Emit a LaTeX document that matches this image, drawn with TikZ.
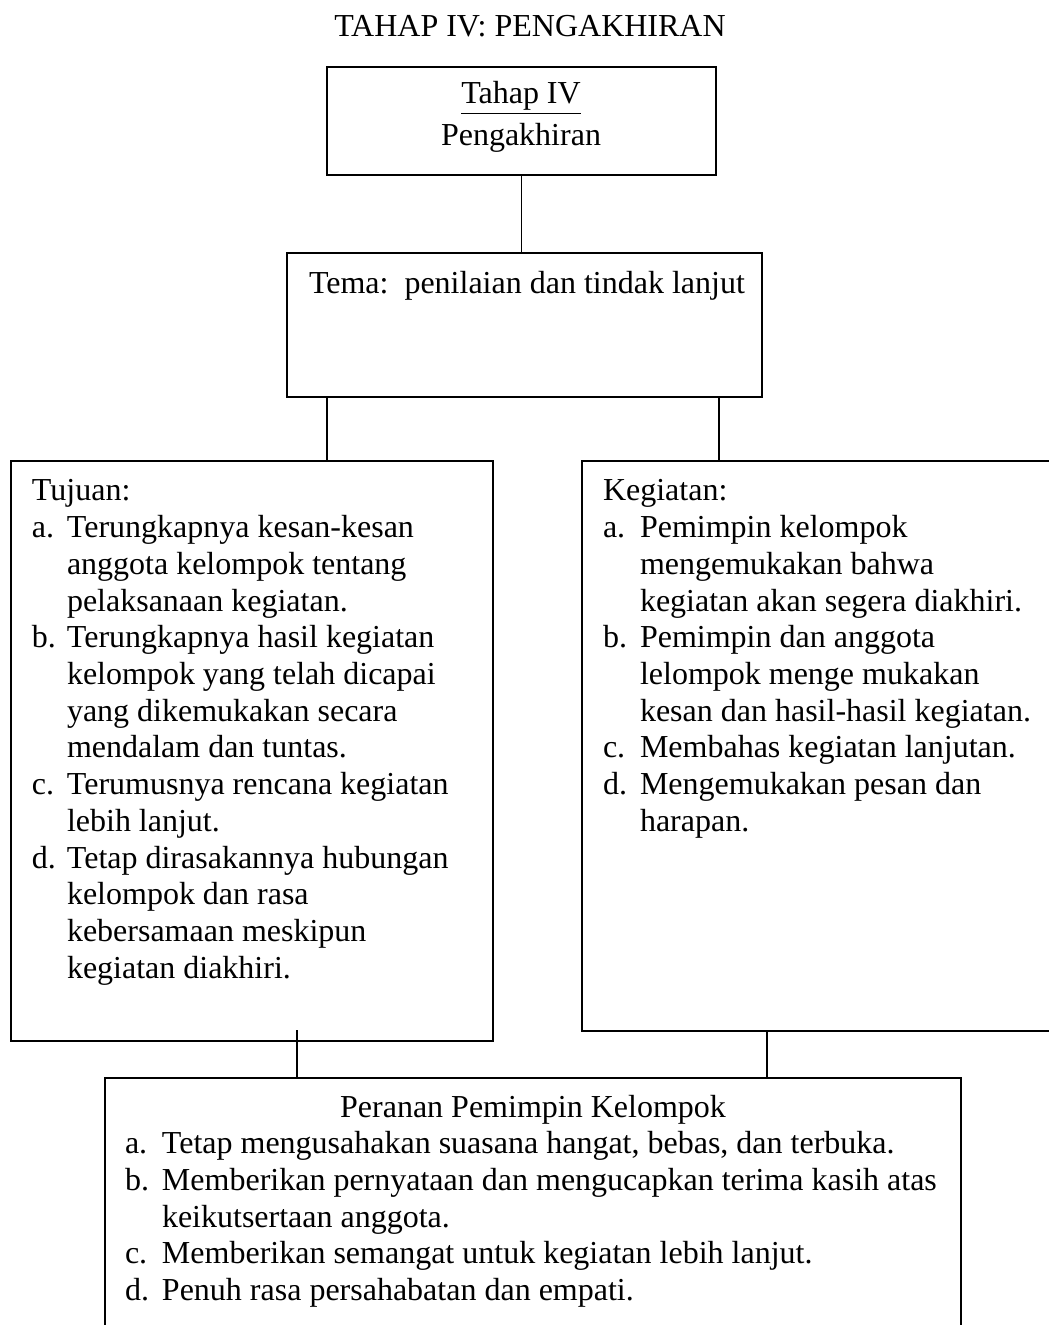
\documentclass[tikz,border=0pt]{standalone}
\usepackage{fontspec}
\setmainfont{Liberation Serif}
\usepackage{array}
\usetikzlibrary{fit,calc}
\newcommand\mylist[2]{\begin{tabular}[t]{@{}p{#1}@{}l@{}}#2\end{tabular}}
\tikzset{
  box/.style={draw, line width=1pt, inner sep=0pt, outer sep=0pt, rectangle},
  link/.style={draw, line width=0.65pt},
  txt/.style={inner sep=0pt, outer sep=0pt, font=\fontsize{16pt}{18.35pt}\selectfont},
}
\begin{document}
\begin{tikzpicture}[x=0.5pt, y=-0.5pt]
\useasboundingbox (0,0) rectangle (1048,1325);
% boxes
\node[box, fit={(327,67) (716,175)}] (top) {};
\node[box, fit={(287,253) (762,397)}] (tema) {};
\node[box, fit={(11,461) (493,1041)}] (left) {};
\node[box, fit={(582,461) (1056,1031)}] (right) {};
\node[box, fit={(105,1078) (961,1340)}] (bot) {};
% connectors
\draw[link] (top.south) -- (top.south |- tema.north);
\coordinate (ta) at ($(tema.south west)+(40,0)$);
\draw[link] (ta) -- (ta |- left.north);
\coordinate (tb) at ($(tema.south east)+(-43,0)$);
\draw[link] (tb) -- (tb |- right.north);
\coordinate (la) at ($(left.south west)+(286,-11)$);
\draw[link] (la) -- (la |- bot.north);
\coordinate (ra) at ($(right.south west)+(185,0)$);
\draw[link] (ra) -- (ra |- bot.north);
% texts
\node[txt, anchor=base] (title) at (530,37) {TAHAP IV: PENGAKHIRAN};
\node[txt, anchor=base] (t1) at (521,104) {\underline{Tahap IV}};
\node[txt, anchor=base] (t2) at (521,146) {Pengakhiran};
\node[txt, anchor=base west] (tematxt) at (309,294) {Tema:\ \ penilaian dan tindak lanjut};
\node[txt, anchor=base west] (ltxt) at (32,501) {\mylist{17.5pt}{%
\multicolumn{2}{@{}l@{}}{Tujuan:}\\
a. & Terungkapnya kesan-kesan\\
   & anggota kelompok tentang\\
   & pelaksanaan kegiatan.\\
b. & Terungkapnya hasil kegiatan\\
   & kelompok yang telah dicapai\\
   & yang dikemukakan secara\\
   & mendalam dan tuntas.\\
c. & Terumusnya rencana kegiatan\\
   & lebih lanjut.\\
d. & Tetap dirasakannya hubungan\\
   & kelompok dan rasa\\
   & kebersamaan meskipun\\
   & kegiatan diakhiri.}};
\node[txt, anchor=base west] (rtxt) at (603,501) {\mylist{18.5pt}{%
\multicolumn{2}{@{}l@{}}{Kegiatan:}\\
a. & Pemimpin kelompok\\
   & mengemukakan bahwa\\
   & kegiatan akan segera diakhiri.\\
b. & Pemimpin dan anggota\\
   & lelompok menge mukakan\\
   & kesan dan hasil-hasil kegiatan.\\
c. & Membahas kegiatan lanjutan.\\
d. & Mengemukakan pesan dan\\
   & harapan.}};
\node[txt, anchor=base] (btitle) at (533,1117) {Peranan Pemimpin Kelompok};
\node[txt, anchor=base west] (btxt) at (125,1153.7) {\mylist{18.5pt}{%
a. & Tetap mengusahakan suasana hangat, bebas, dan terbuka.\\
b. & Memberikan pernyataan dan mengucapkan terima kasih atas\\
   & keikutsertaan anggota.\\
c. & Memberikan semangat untuk kegiatan lebih lanjut.\\
d. & Penuh rasa persahabatan dan empati.}};
\end{tikzpicture}
\end{document}
